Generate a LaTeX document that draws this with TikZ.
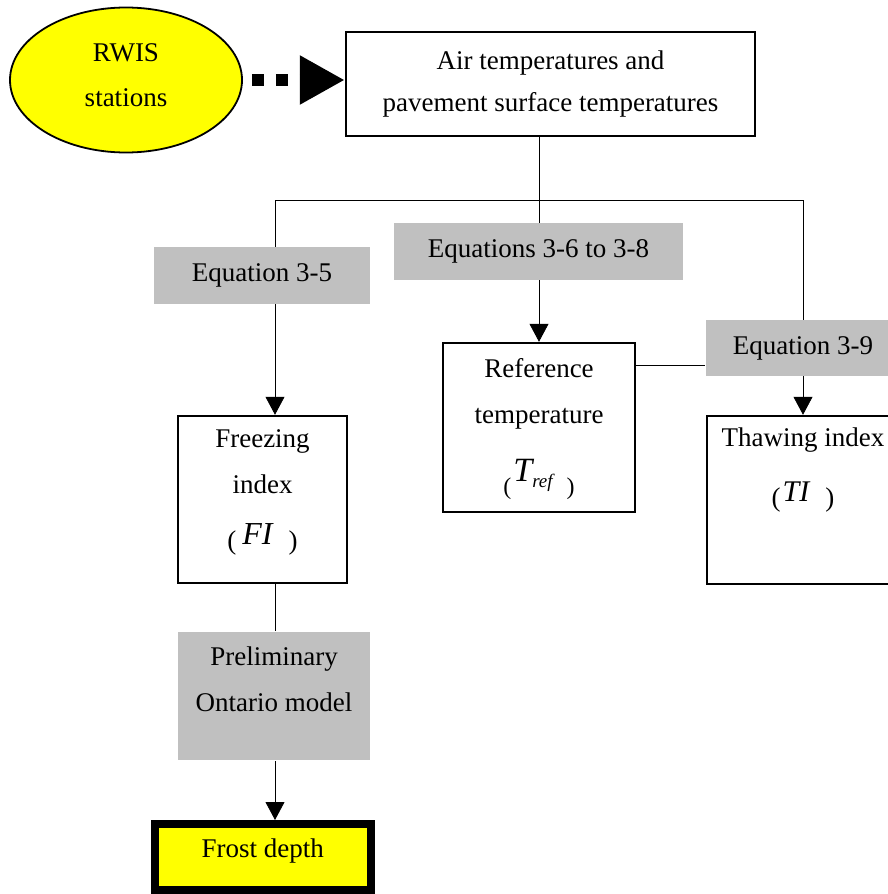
\documentclass[tikz,border=0pt]{standalone}
\usepackage{fontspec}
\setmainfont{Liberation Serif}
\usetikzlibrary{arrows.meta,shapes.geometric,backgrounds}
\definecolor{eqgray}{RGB}{192,192,192}
\definecolor{rwisyellow}{RGB}{255,255,0}

\begin{document}
\begin{tikzpicture}[x=0.5pt,y=-0.5pt,>={Triangle[length=9pt 0 0,width=9.5pt 0 0]},line width=1.2pt,
  font=\fontsize{13.5}{23}\selectfont,
  box/.style={draw,inner sep=0pt,align=center},
  eqbox/.style={fill=eqgray,inner sep=0pt,align=center},
  txt/.style={inner sep=0pt,align=center},
  dotarrow/.style={line width=6pt,dash pattern=on 6pt off 6pt,shorten <=4.5pt,
    -{Triangle[length=22.5pt 0 0,width=23pt 0 0]}}]
\useasboundingbox (0,0) rectangle (888,894);
% inputs
\node[ellipse,draw,line width=0.9pt,fill=rwisyellow,minimum width=116pt,minimum height=72.5pt,
  inner sep=0pt] (rwis) at (126,80) {};
\node[txt] (rwis-txt) at (126,75) {RWIS\\[-0.5pt]stations};
\node[box,minimum width=204.5pt,minimum height=52pt] (temps) at (550.5,84)
  {Air temperatures and\\[-2pt]pavement surface temperatures};
% equations
\node[eqbox,minimum width=144.5pt,minimum height=28.5pt] (eq68) at (538.5,251.5) {Equations 3-6 to 3-8};
\node[eqbox,minimum width=108pt,minimum height=28.5pt] (eq5) at (262,275.5) {Equation 3-5};
\node[eqbox,minimum width=97pt,minimum height=28pt] (eq9) at (803,348) {Equation 3-9};
% indices
\node[box,minimum width=96pt,minimum height=84.5pt] (tref) at (539,427.5) {};
\node[txt] (tref-txt) at (539,429) {Reference\\temperature\\[6pt]%
  \raisebox{-6.5pt}{\fontsize{12}{12}\selectfont(}\hspace{1pt}{\fontsize{17}{18}\selectfont\itshape T}%
  \raisebox{-3pt}{\fontsize{9.5}{10}\selectfont\itshape ref}\hspace{7pt}\raisebox{-6.5pt}{\fontsize{12}{12}\selectfont)}};
\node[box,minimum width=84.5pt,minimum height=83.5pt] (fi) at (262.5,499.5) {};
\node[txt] (fi-txt) at (262.5,492) {Freezing\\index\\[5pt]%
  (\hspace{3pt}\raisebox{2.5pt}{\fontsize{16}{18}\selectfont\itshape FI}\hspace{8pt})};
\node[box,minimum width=96pt,minimum height=84pt] (ti) at (803,500) {};
\node[txt] (ti-txt) at (803,470) {Thawing index\\[7pt]%
  (\hspace{1pt}\raisebox{2.5pt}{\fontsize{15}{18}\selectfont\itshape TI}\hspace{8pt})};
% model and output
\node[eqbox,minimum width=96pt,minimum height=64pt] (prelim) at (274,696) {};
\node[txt] (prelim-txt) at (274,679) {Preliminary\\Ontario model};
\node[draw,line width=4pt,fill=rwisyellow,minimum width=107.75pt,minimum height=33pt,inner sep=0pt]
  (frost) at (262.75,857) {};
\node[txt] (frost-txt) at (262.75,851) {Frost depth};
% connectors
\begin{scope}[on background layer]
\coordinate (jl) at (275,200);
\coordinate (jr) at (803,200);
\draw[dotarrow] (rwis.east) -- (rwis.east -| temps.west);
\draw[->] (temps.south -| tref.north) -- (tref.north);
\draw (jl) -- (jr);
\draw[->] (jl) -- (jl |- fi.north);
\draw[->] (jr) -- (jr |- ti.north);
\draw ([yshift=-12pt]tref.north east) -- ([yshift=-12pt]tref.north east -| eq9.west);
\draw (jl |- fi.south) -- (jl |- prelim.north);
\draw[->] (jl |- prelim.south) -- (jl |- frost.north);
\end{scope}
\end{tikzpicture}
\end{document}
